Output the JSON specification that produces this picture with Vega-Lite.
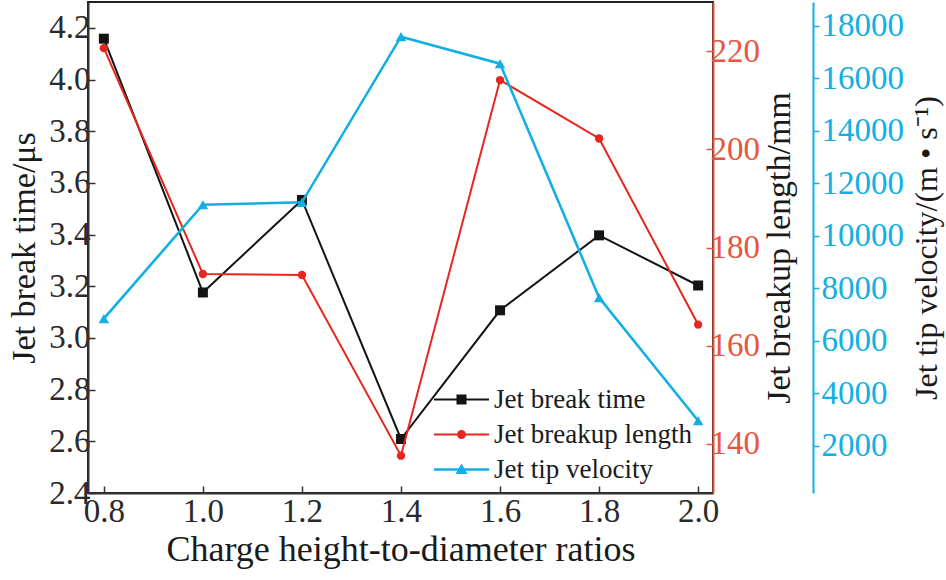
{
  "$schema": "https://vega.github.io/schema/vega-lite/v6.json",
  "width": 625,
  "height": 491,
  "autosize": {"type": "none"},
  "padding": {"left": 88, "top": 2, "right": 233, "bottom": 87},
  "background": "white",
  "data": {"values": [
    {"ratio": 0.8, "time": 4.158, "length": 220.6, "velocity": 6840},
    {"ratio": 1.0, "time": 3.176, "length": 174.6, "velocity": 11180},
    {"ratio": 1.2, "time": 3.534, "length": 174.4, "velocity": 11270},
    {"ratio": 1.4, "time": 2.609, "length": 137.6, "velocity": 17580},
    {"ratio": 1.6, "time": 3.107, "length": 214.1, "velocity": 16550},
    {"ratio": 1.8, "time": 3.397, "length": 202.2, "velocity": 7640},
    {"ratio": 2.0, "time": 3.203, "length": 164.3, "velocity": 2950}
  ]},
  "encoding": {
    "x": {
      "field": "ratio",
      "type": "quantitative",
      "title": "Charge height-to-diameter ratios",
      "scale": {"domain": [0.768, 2.03], "nice": false, "zero": false},
      "axis": {
        "values": [0.8, 1.0, 1.2, 1.4, 1.6, 1.8, 2.0],
        "format": ".1f",
        "tickSize": -7,
        "labelPadding": 9,
        "titlePadding": 4,
        "titleFontSize": 36
      }
    }
  },
  "layer": [
    {
      "mark": {"type": "line", "strokeWidth": 2,
               "point": {"shape": "square", "filled": true, "size": 100}},
      "encoding": {
        "y": {
          "field": "time",
          "type": "quantitative",
          "title": "Jet break time/μs",
          "scale": {"domain": [2.4, 4.3], "nice": false, "zero": false},
          "axis": {
            "orient": "left",
            "values": [2.4, 2.6, 2.8, 3.0, 3.2, 3.4, 3.6, 3.8, 4.0, 4.2],
            "format": ".1f",
            "tickSize": -7,
            "labelPadding": 5,
            "titlePadding": 7
          }
        },
        "color": {
          "datum": "Jet break time",
          "type": "nominal",
          "scale": {
            "domain": ["Jet break time", "Jet breakup length", "Jet tip velocity"],
            "range": ["#141414", "#e8251f", "#12afe4"]
          },
          "legend": {
            "title": null,
            "orient": "none",
            "legendX": 360,
            "legendY": 384,
            "padding": 0,
            "symbolSize": 400,
            "labelOffset": 19,
            "labelFontSize": 27,
            "labelLimit": 0,
            "labelColor": "#1a1a1a",
            "rowPadding": 7,
            "encode": {
              "symbols": {
                "update": {
                  "shape": {"signal": "datum.value === 'Jet break time' ? 'M-2.75,-0.1H2.75V0.1H-2.75Z M-0.5,-0.5H0.5V0.5H-0.5Z' : datum.value === 'Jet breakup length' ? 'M-2.75,-0.1H2.75V0.1H-2.75Z M-0.45,0A0.45,0.45 0 1,1 0.45,0A0.45,0.45 0 1,1 -0.45,0Z' : 'M-2.75,-0.12H2.75V0.12H-2.75Z M0,-0.6L0.6,0.45L-0.6,0.45Z'"},
                  "fill": {"signal": "datum.value === 'Jet break time' ? '#141414' : datum.value === 'Jet breakup length' ? '#e8251f' : '#12afe4'"},
                  "stroke": {"value": "transparent"},
                  "strokeWidth": {"value": 0},
                  "opacity": {"value": 1}
                }
              }
            }
          }
        }
      }
    },
    {
      "mark": {"type": "line", "strokeWidth": 2,
               "point": {"shape": "circle", "filled": true, "size": 70}},
      "encoding": {
        "y": {
          "field": "length",
          "type": "quantitative",
          "title": "Jet breakup length/mm",
          "scale": {"domain": [130, 230], "nice": false, "zero": false},
          "axis": {
            "orient": "right",
            "values": [140, 160, 180, 200, 220],
            "tickSize": -7,
            "labelPadding": 4,
            "domainColor": "#e8553f",
            "tickColor": "#e8553f",
            "labelColor": "#e8553f",
            "titleAngle": -90,
            "titleBaseline": "top",
            "titlePadding": 3
          }
        },
        "color": {"datum": "Jet breakup length", "type": "nominal"}
      }
    },
    {
      "mark": {"type": "line", "strokeWidth": 2.6,
               "point": {"shape": "triangle-up", "filled": true, "size": 110}},
      "encoding": {
        "y": {
          "field": "velocity",
          "type": "quantitative",
          "title": "Jet tip velocity/(m • s⁻¹)",
          "scale": {"domain": [200, 18900], "nice": false, "zero": false},
          "axis": {
            "orient": "right",
            "offset": 100,
            "values": [2000, 4000, 6000, 8000, 10000, 12000, 14000, 16000, 18000],
            "format": "d",
            "tickSize": 6,
            "labelPadding": 2,
            "domainColor": "#12afe4",
            "tickColor": "#12afe4",
            "labelColor": "#12afe4",
            "titleAngle": -90,
            "titleBaseline": "top",
            "titleFontSize": 32,
            "titlePadding": 8
          }
        },
        "color": {"datum": "Jet tip velocity", "type": "nominal"}
      }
    }
  ],
  "resolve": {"scale": {"y": "independent"}},
  "config": {
    "font": "Liberation Serif",
    "view": {"stroke": "#222222", "strokeWidth": 2},
    "axis": {
      "grid": false,
      "domainColor": "#333333",
      "domainWidth": 2,
      "tickColor": "#333333",
      "tickWidth": 1.5,
      "labelFont": "Liberation Serif",
      "labelFontSize": 33,
      "labelColor": "#2a2a2a",
      "labelFlush": false,
      "labelOverlap": false,
      "titleFont": "Liberation Serif",
      "titleFontSize": 34,
      "titleFontWeight": "normal",
      "titleColor": "#1a1a1a"
    },
    "legend": {"labelFont": "Liberation Serif"}
  }
}
